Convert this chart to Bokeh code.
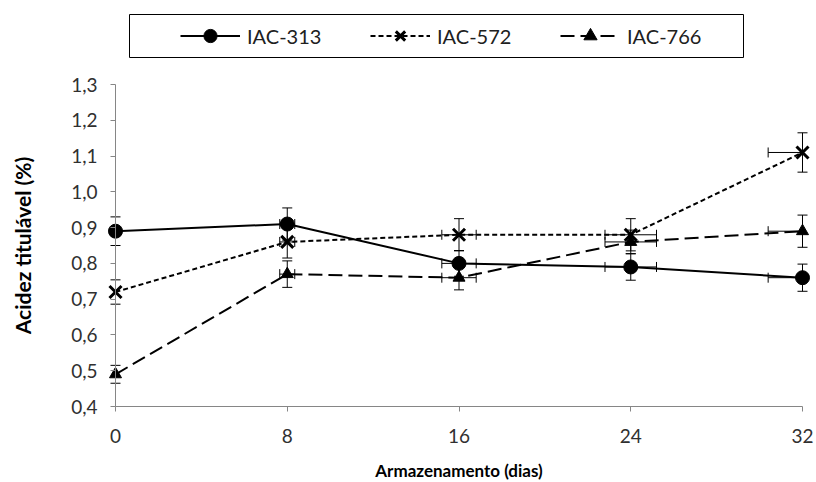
import numpy as np
from bokeh.plotting import figure
from bokeh.models import (Range1d, FixedTicker, Legend, LegendItem, Whisker,
                          TeeHead, ColumnDataSource, BoxAnnotation)
from bokeh.embed import file_html
from bokeh.resources import INLINE

# ---- data -------------------------------------------------------------
days = [0, 8, 16, 24, 32]
series_names = ["IAC-313", "IAC-572", "IAC-766"]
iac313 = [0.89, 0.91, 0.80, 0.79, 0.76]
iac572 = [0.72, 0.86, 0.88, 0.88, 1.11]
iac766 = [0.49, 0.77, 0.76, 0.86, 0.89]
err313 = [0.040, 0.045, 0.036, 0.037, 0.038]
err572 = [0.034, 0.045, 0.045, 0.045, 0.055]
err766 = [0.025, 0.037, 0.034, 0.033, 0.045]
xerr_days = [0.0, 0.35, 0.8, 1.2, 1.6]
x_ticks = [0, 8, 16, 24, 32]
x_tick_labels = ["0", "8", "16", "24", "32"]
y_ticks = [0.4, 0.5, 0.6, 0.7, 0.8, 0.9, 1.0, 1.1, 1.2, 1.3]
y_tick_labels = ["0,4", "0,5", "0,6", "0,7", "0,8", "0,9", "1,0", "1,1", "1,2", "1,3"]
x_title = "Armazenamento (dias)"
y_title = "Acidez titulável (%)"

# ---- layout (pixels) --------------------------------------------------
W, H = 816, 482
PLOT_L, PLOT_R, PLOT_T, PLOT_B = 115, 802, 84, 406   # axis extent in px
LEG_L, LEG_R, LEG_T, LEG_B = 129, 743, 14, 57         # legend box in px
LEG_FIRST_GLYPH = 180
LEG_PAD = 5
FONT = "Lato"
AXIS_GRAY = "#868686"

x_min, x_max = x_ticks[0], x_ticks[-1]
y_min, y_max = y_ticks[0], y_ticks[-1]
sx = (PLOT_R - PLOT_L) / (x_max - x_min)
sy = (PLOT_B - PLOT_T) / (y_max - y_min)

# the frame covers the whole canvas; axes are drawn at fixed locations
p = figure(width=W, height=H, output_backend="svg", toolbar_location=None,
           x_range=Range1d(x_min - PLOT_L / sx, x_max + (W - PLOT_R) / sx),
           y_range=Range1d(y_min - (H - PLOT_B) / sy, y_max + PLOT_T / sy),
           min_border=0, min_border_left=0, min_border_right=0,
           min_border_top=0, min_border_bottom=0)
p.outline_line_color = None
p.grid.visible = False
p.background_fill_color = "white"
p.border_fill_color = "white"

p.xaxis.ticker = FixedTicker(ticks=x_ticks)
p.xaxis.major_label_overrides = {t: l for t, l in zip(x_ticks, x_tick_labels)}
p.xaxis.bounds = (x_min, x_max)
p.xaxis.fixed_location = y_min
p.yaxis.ticker = FixedTicker(ticks=y_ticks)
p.yaxis.major_label_overrides = {t: l for t, l in zip(y_ticks, y_tick_labels)}
p.yaxis.bounds = (y_min, y_max)
p.yaxis.fixed_location = x_min
for ax in (p.xaxis, p.yaxis):
    ax.axis_line_color = AXIS_GRAY
    ax.major_tick_line_color = AXIS_GRAY
    ax.major_tick_out = 5
    ax.major_tick_in = 0
    ax.minor_tick_line_color = None
    ax.major_label_text_font = FONT
    ax.major_label_text_font_size = "19px"
    ax.major_label_text_color = "#303030"
    ax.axis_label_text_font = FONT
    ax.axis_label_text_font_style = "bold"
    ax.axis_label_text_color = "black"
p.xaxis.axis_label = x_title
p.yaxis.axis_label = y_title
p.xaxis.axis_label_text_font_size = "17px"
p.yaxis.axis_label_text_font_size = "21px"
p.xaxis.major_label_standoff = 17
p.xaxis.axis_label_standoff = 14
p.yaxis.major_label_standoff = 13
p.yaxis.axis_label_standoff = 33

# ---- series -----------------------------------------------------------
specs = [
    (iac313, err313, "solid", "circle", 14, 1),
    (iac572, err572, "5 3", "x", 17, 3),
    (iac766, err766, "14 6", "triangle", 12, 1),
]


def tee():
    return TeeHead(size=10, line_color="black", line_width=1)


legend_items = []
d = np.array(days, dtype=float)
xe = np.array(xerr_days, dtype=float)
for name, (vals, errs, dash, marker, size, mlw) in zip(series_names, specs):
    v = np.array(vals)
    e = np.array(errs)
    vsrc = ColumnDataSource(dict(x=d, lower=v - e, upper=v + e))
    p.add_layout(Whisker(source=vsrc, base="x", lower="lower", upper="upper",
                         dimension="height", line_color="black", line_width=1,
                         lower_head=tee(), upper_head=tee()))
    # horizontal error bars, cut at the axis extent as in the source chart
    lo = np.clip(d - xe, x_min, x_max)
    hi = np.clip(d + xe, x_min, x_max)
    m_l = (d - lo) > 0
    m_l_cap = m_l & ((d - xe) >= x_min)
    m_r = (hi - d) > 0
    m_r_cap = m_r & ((d + xe) <= x_max)
    for mask, cap, side in ((m_l, m_l_cap, "l"), (m_r, m_r_cap, "r")):
        for sub, head in ((mask & cap, True), (mask & ~cap, False)):
            if not sub.any():
                continue
            if side == "l":
                src = ColumnDataSource(dict(y=v[sub], lower=lo[sub], upper=d[sub]))
                lh, uh = (tee() if head else None), None
            else:
                src = ColumnDataSource(dict(y=v[sub], lower=d[sub], upper=hi[sub]))
                lh, uh = None, (tee() if head else None)
            p.add_layout(Whisker(source=src, base="y", lower="lower", upper="upper",
                                 dimension="width", line_color="black", line_width=1,
                                 lower_head=lh, upper_head=uh))
    ln = p.line(days, vals, line_color="black", line_width=2, line_dash=dash)
    sc = p.scatter(days, vals, marker=marker, size=size, fill_color="black",
                   line_color="black", line_width=mlw)
    legend_items.append(LegendItem(label=name, renderers=[ln, sc]))

item_h = (LEG_B - LEG_T) - 2 * LEG_PAD
legend = Legend(items=legend_items, orientation="horizontal",
                location=(LEG_FIRST_GLYPH - LEG_PAD, H - LEG_B),
                padding=LEG_PAD, spacing=48, glyph_width=60, glyph_height=item_h,
                label_height=item_h, label_standoff=7, label_width=75,
                border_line_alpha=0, background_fill_alpha=0,
                label_text_font=FONT, label_text_font_size="20px",
                label_text_color="#202020")
p.add_layout(legend)

box = BoxAnnotation(left=LEG_L, right=LEG_R, bottom=H - LEG_B, top=H - LEG_T,
                    left_units="screen", right_units="screen",
                    top_units="screen", bottom_units="screen",
                    fill_alpha=0, line_color="black", line_width=1, line_alpha=1)
p.add_layout(box)

open("out.html", "w").write(file_html(p, INLINE))
